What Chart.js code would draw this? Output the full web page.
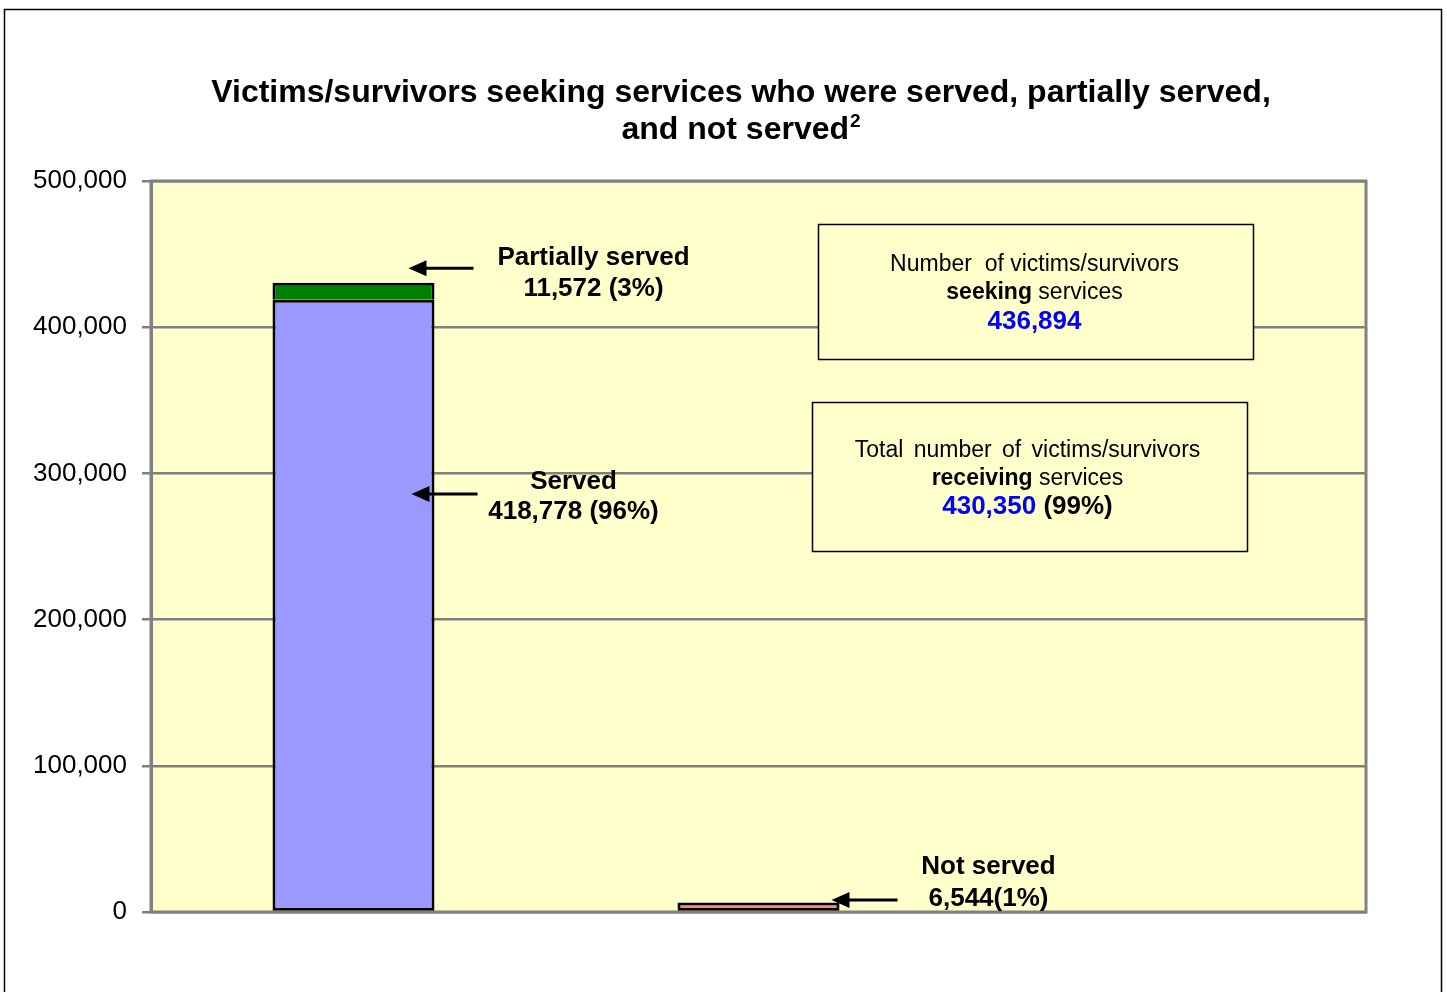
<!DOCTYPE html>
<html><head><meta charset="utf-8">
<script src="https://cdn.jsdelivr.net/npm/chart.js@4/dist/chart.umd.min.js"></script>
<style>html,body{margin:0;padding:0;background:#fff}#wrap{width:1447px;height:992px;position:relative}</style>
</head><body><div id="wrap"><canvas id="c"></canvas></div>
<script>
// ---- data ----
const categories = ['Served / partially served', 'Not served', ''];
const servedValues = [418778, null, null];
const partiallyServedValues = [11572, null, null];
const notServedValues = [null, 6544, null];
const yTicks = [0, 100000, 200000, 300000, 400000, 500000];
const titleLines = ['Victims/survivors seeking services who were served, partially served,', 'and not served'];
const titleSup = '2';
const seekingTotal = 436894;
const receivingTotal = 430350;
const receivingPct = '99%';
const partialLabel = ['Partially served', '11,572 (3%)'];
const servedLabel = ['Served', '418,778 (96%)'];
const notServedLabel = ['Not served', '6,544(1%)'];

// ---- style ----
const FONT = "'Liberation Sans', Arial, Helvetica, sans-serif";
const PLOT_BG = '#FFFFCC';
const GRID = '#808080';
const DY = 2; // text baseline adjustment

function fmt(v){ return String(v).replace(/\B(?=(\d{3})+(?!\d))/g, ','); }

function drawMixed(ctx, parts, cx, y, ws){
  ctx.save();
  if (ws) ctx.wordSpacing = ws;
  let total = 0;
  parts.forEach(p => { ctx.font = p.font; p.w = ctx.measureText(p.text).width; total += p.w; });
  let x = cx - total/2;
  ctx.textAlign = 'left'; ctx.textBaseline = 'middle';
  parts.forEach(p => { ctx.font = p.font; ctx.fillStyle = p.color || '#000'; ctx.fillText(p.text, x, y + DY); x += p.w; });
  ctx.restore();
}
function drawArrow(ctx, xTail, xTip, y){
  ctx.save();
  ctx.strokeStyle = '#000'; ctx.fillStyle = '#000'; ctx.lineWidth = 3;
  ctx.beginPath(); ctx.moveTo(xTail, y); ctx.lineTo(xTip + 14, y); ctx.stroke();
  ctx.beginPath(); ctx.moveTo(xTip, y); ctx.lineTo(xTip + 18, y - 8); ctx.lineTo(xTip + 18, y + 8); ctx.closePath(); ctx.fill();
  ctx.restore();
}

const decor = {
  id: 'decor',
  beforeDraw(chart){
    const {ctx, chartArea: a} = chart;
    ctx.save();
    ctx.fillStyle = '#fff'; ctx.fillRect(0, 0, chart.width, chart.height);
    ctx.fillStyle = PLOT_BG; ctx.fillRect(a.left, a.top, a.right - a.left, a.bottom - a.top);
    ctx.restore();
  },
  beforeDatasetsDraw(chart){
    const {ctx, chartArea: a} = chart;
    ctx.save();
    ctx.strokeStyle = GRID; ctx.lineWidth = 3;
    ctx.strokeRect(a.left, a.top, a.right - a.left, a.bottom - a.top);
    ctx.restore();
  },
  afterDatasetsDraw(chart){
    const {ctx, chartArea: a, scales: {x, y}} = chart;
    ctx.save();
    // title
    ctx.fillStyle = '#000'; ctx.textAlign = 'center'; ctx.textBaseline = 'middle';
    const cx = 741;
    ctx.font = 'bold 32px ' + FONT;
    ctx.fillText(titleLines[0], cx, 91 + DY);
    const w2 = ctx.measureText(titleLines[1]).width;
    ctx.font = 'bold 19px ' + FONT;
    const ws = ctx.measureText(titleSup).width;
    const start = cx - (w2 + ws + 1)/2;
    ctx.textAlign = 'left';
    ctx.font = 'bold 32px ' + FONT; ctx.fillText(titleLines[1], start, 128 + DY);
    ctx.font = 'bold 19px ' + FONT; ctx.fillText(titleSup, start + w2 + 1, 120 + DY);

    // annotations
    const x0 = x.getPixelForValue(0), x1 = x.getPixelForValue(1);
    const boldAnno = 'bold 26px ' + FONT;
    // partially served
    let ay = y.getPixelForValue(440400);
    drawArrow(ctx, x0 + 120, x0 + 55, ay);
    drawMixed(ctx, [{text: partialLabel[0], font: boldAnno}], x0 + 240, ay - 12);
    drawMixed(ctx, [{text: partialLabel[1], font: boldAnno}], x0 + 240, ay + 19);
    // served
    ay = y.getPixelForValue(285900);
    drawArrow(ctx, x0 + 124, x0 + 58, ay);
    drawMixed(ctx, [{text: servedLabel[0], font: boldAnno}], x0 + 220, ay - 14);
    drawMixed(ctx, [{text: servedLabel[1], font: boldAnno}], x0 + 220, ay + 16);
    // not served
    ay = y.getPixelForValue(8200);
    drawArrow(ctx, x1 + 139, x1 + 73, ay);
    drawMixed(ctx, [{text: notServedLabel[0], font: boldAnno}], x1 + 230, ay - 35);
    drawMixed(ctx, [{text: notServedLabel[1], font: boldAnno}], x1 + 230, ay - 3);

    // boxes
    const reg = '23px ' + FONT, bold = 'bold 23px ' + FONT, big = 'bold 26px ' + FONT;
    function box(l, t, w, h){
      ctx.fillStyle = PLOT_BG; ctx.fillRect(l, t, w, h);
      ctx.strokeStyle = '#000'; ctx.lineWidth = 1.5; ctx.strokeRect(l + 0.5, t + 0.5, w, h);
    }
    let bl = a.left + 667, bt = a.top + 43, bw = 435, bh = 135;
    box(bl, bt, bw, bh);
    let bc = bl + bw/2 - 1;
    drawMixed(ctx, [{text: 'Number  of victims/survivors', font: reg}], bc, bt + 39);
    drawMixed(ctx, [{text: 'seeking', font: bold}, {text: ' services', font: reg}], bc, bt + 67);
    drawMixed(ctx, [{text: fmt(seekingTotal), font: big, color: '#0000FF'}], bc, bt + 96);

    bl = a.left + 661; bt = a.top + 221; bw = 435; bh = 149;
    box(bl, bt, bw, bh);
    bc = bl + bw/2 - 2;
    drawMixed(ctx, [{text: 'Total number of victims/survivors', font: reg}], bc, bt + 47, '4px');
    drawMixed(ctx, [{text: 'receiving', font: bold}, {text: ' services', font: reg}], bc, bt + 75);
    drawMixed(ctx, [{text: fmt(receivingTotal), font: big, color: '#0000FF'}, {text: ' (' + receivingPct + ')', font: big}], bc, bt + 103);

    // outer frame
    ctx.strokeStyle = '#000'; ctx.lineWidth = 1.5;
    ctx.strokeRect(4.5, 9.5, 1437, 1000);
    ctx.restore();
  }
};

new Chart(document.getElementById('c'), {
  type: 'bar',
  data: {
    labels: categories,
    datasets: [
      {label: 'Served', data: servedValues, backgroundColor: '#9999FF', borderColor: '#000', borderWidth: 3, borderSkipped: false},
      {label: 'Partially served', data: partiallyServedValues, backgroundColor: '#008000', borderColor: '#000', borderWidth: 3, borderSkipped: 'start'},
      {label: 'Not served', data: notServedValues, backgroundColor: '#FF8080', borderColor: '#000', borderWidth: 3, borderSkipped: false}
    ]
  },
  options: {
    responsive: true, maintainAspectRatio: false, animation: false,
    layout: {padding: {top: 181, right: 81, left: 0, bottom: 0}},
    plugins: {legend: {display: false}, title: {display: false}, tooltip: {enabled: false}},
    datasets: {bar: {categoryPercentage: 1, barPercentage: 0.4}},
    scales: {
      x: {
        stacked: true,
        grid: {display: false},
        border: {display: false},
        ticks: {display: false},
        afterFit(s){ s.height = 80; }
      },
      y: {
        stacked: true, min: 0, max: 500000,
        afterBuildTicks(s){ s.ticks = yTicks.map(v => ({value: v})); },
        afterFit(s){ s.width = 151; },
        grid: {color: GRID, lineWidth: 2.5, tickLength: 9, drawTicks: true},
        border: {color: GRID, width: 3},
        ticks: {color: '#000', padding: 15, font: {family: FONT, size: 26}, callback: v => fmt(v)}
      }
    }
  },
  plugins: [decor]
});
</script></body></html>
